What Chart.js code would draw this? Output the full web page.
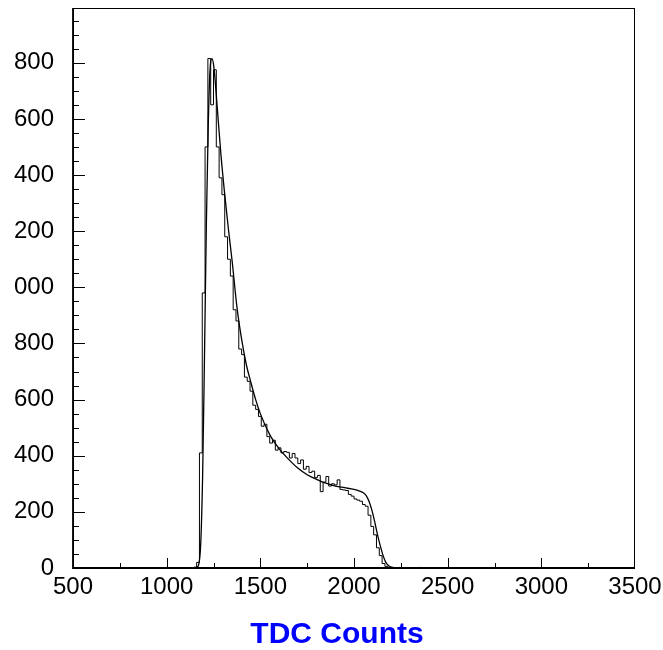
<!DOCTYPE html>
<html>
<head>
<meta charset="utf-8">
<title>TDC Counts</title>
<script src="https://cdn.jsdelivr.net/npm/chart.js@4"></script>
<style>
    html, body { margin: 0; padding: 0; background: #fff; }
    #wrap { width: 663px; height: 650px; }
</style>
</head>
<body>
<div id="wrap"><canvas id="tdcChart" width="663" height="650"></canvas></div>
<script>
// axis ticks
const xTicks = [500, 1000, 1500, 2000, 2500, 3000, 3500];
const xTickLabels = ['500', '1000', '1500', '2000', '2500', '3000', '3500'];
const yTicks = [0, 200, 400, 600, 800, 1000, 1200, 1400, 1600, 1800];
const yTickLabels = ['0', '200', '400', '600', '800', '000', '200', '400', '600', '800'];
const xTitle = 'TDC Counts';

// histogram: bins of 15 counts starting at 1145
const firstBinEdge = 1145;
const binWidth = 15;
const binCounts = [
    1, 3, 20, 410, 980, 1500, 1815, 1650, 1775, 1500,
    1390, 1330, 1180, 1100, 1040, 920, 880, 780, 760, 680,
    665, 630, 580, 565, 540, 505, 512, 468, 445, 455,
    420, 428, 410, 415, 412, 392, 408, 392, 372, 385,
    352, 362, 340, 345, 322, 330, 272, 306, 326, 292,
    300, 296, 314, 280, 278, 276, 262, 256, 246, 242,
    238, 226, 220, 188, 148, 118, 72, 44, 16, 6,
    2, 1, 1, 0, 2, 0, 1, 0, 0, 1,
    0, 2, 0, 0, 1, 0, 0, 1, 0, 0,
    1, 0
];

// fitted function
const fitX = [1100, 1150, 1160, 1172, 1182, 1192, 1202, 1212, 1222, 1232, 1242, 1252, 1270, 1290, 1310, 1330, 1350, 1375, 1400, 1425, 1450, 1475, 1500, 1550, 1600, 1650, 1700, 1750, 1800, 1850, 1900, 1950, 2000, 2030, 2050, 2065, 2080, 2095, 2110, 2125, 2140, 2155, 2170, 2185, 2200, 2220, 2260, 3500];
const fitY = [0, 0, 2, 15, 90, 330, 760, 1230, 1580, 1780, 1815, 1785, 1640, 1470, 1330, 1205, 1090, 930, 815, 725, 660, 600, 550, 475, 425, 388, 356, 332, 316, 302, 292, 286, 280, 274, 268, 258, 238, 207, 166, 120, 80, 45, 20, 8, 3, 1, 0, 0];

const xMin = 500, xMax = 3500, yMax = 1995;

document.addEventListener('DOMContentLoaded', () => {
    const ctx = document.getElementById('tdcChart').getContext('2d');

    // step outline points, one per lower bin edge
    const histPoints = [{ x: xMin, y: 0 }];
    binCounts.forEach((c, i) => histPoints.push({ x: firstBinEdge + i * binWidth, y: c }));
    histPoints.push({ x: firstBinEdge + binCounts.length * binWidth, y: 0 });
    histPoints.push({ x: xMax, y: 0 });

    const fitPoints = fitX.map((x, i) => ({ x: x, y: fitY[i] }));

    // frame, inward ticks and axis title, ROOT style
    const frameTicks = {
        id: 'frameTicks',
        afterDatasetsDraw(chart) {
            const { ctx, chartArea: a, scales } = chart;
            ctx.save();
            ctx.strokeStyle = '#000';
            ctx.lineWidth = 1;
            ctx.strokeRect(a.left + 0.5, a.top + 0.5, a.right - a.left - 1, a.bottom - a.top);
            ctx.lineWidth = 1.8;
            ctx.beginPath();
            ctx.moveTo(a.left, a.top);
            ctx.lineTo(a.left, a.bottom);
            ctx.lineTo(a.right, a.bottom);
            ctx.stroke();

            ctx.lineWidth = 1;
            ctx.beginPath();
            for (let v = 0; v < yMax; v += 50) {
                const y = Math.round(scales.y.getPixelForValue(v)) + 0.5;
                const len = v % 200 === 0 ? 12 : 6;
                ctx.moveTo(a.left, y);
                ctx.lineTo(a.left + len, y);
            }
            for (let v = xMin + 250; v < xMax; v += 250) {
                const x = Math.round(scales.x.getPixelForValue(v)) + 0.5;
                const len = v % 500 === 0 ? 10 : 5;
                ctx.moveTo(x, a.bottom);
                ctx.lineTo(x, a.bottom - len);
            }
            ctx.stroke();

            ctx.fillStyle = '#0000ff';
            ctx.font = 'bold 30px "Liberation Sans"';
            ctx.textAlign = 'center';
            ctx.textBaseline = 'alphabetic';
            ctx.fillText(xTitle, 337, 643);
            ctx.restore();
        }
    };

    new Chart(ctx, {
        type: 'line',
        data: {
            datasets: [
                {
                    label: 'hist',
                    data: histPoints,
                    stepped: 'after',
                    borderColor: '#000',
                    borderWidth: 1,
                    pointRadius: 0,
                    fill: false
                },
                {
                    label: 'fit',
                    data: fitPoints,
                    borderColor: '#000',
                    borderWidth: 1.3,
                    pointRadius: 0,
                    cubicInterpolationMode: 'monotone',
                    fill: false
                }
            ]
        },
        plugins: [frameTicks],
        options: {
            responsive: false,
            animation: false,
            devicePixelRatio: 1,
            layout: { padding: { top: 8, right: 28, left: 0, bottom: 0 } },
            plugins: {
                legend: { display: false },
                tooltip: { enabled: false }
            },
            scales: {
                x: {
                    type: 'linear',
                    min: xMin,
                    max: xMax,
                    grid: { display: false, drawTicks: false },
                    border: { display: false },
                    afterBuildTicks: (scale) => { scale.ticks = xTicks.map(v => ({ value: v })); },
                    afterFit: (scale) => {
                        scale.height = 82;
                        scale.paddingLeft = 0;
                        scale.paddingRight = 0;
                    },
                    ticks: {
                        autoSkip: false,
                        maxRotation: 0,
                        padding: 5,
                        color: '#000',
                        font: { family: 'Liberation Sans', size: 24 },
                        callback: (v) => xTickLabels[xTicks.indexOf(v)]
                    }
                },
                y: {
                    type: 'linear',
                    min: 0,
                    max: yMax,
                    grid: { display: false, drawTicks: false },
                    border: { display: false },
                    afterBuildTicks: (scale) => { scale.ticks = yTicks.map(v => ({ value: v })); },
                    afterFit: (scale) => {
                        scale.width = 73;
                        scale.paddingTop = 0;
                        scale.paddingBottom = 0;
                    },
                    ticks: {
                        autoSkip: false,
                        padding: 19,
                        color: '#000',
                        font: { family: 'Liberation Sans', size: 24 },
                        callback: (v) => yTickLabels[yTicks.indexOf(v)]
                    }
                }
            }
        }
    });
});
</script>
</body>
</html>
